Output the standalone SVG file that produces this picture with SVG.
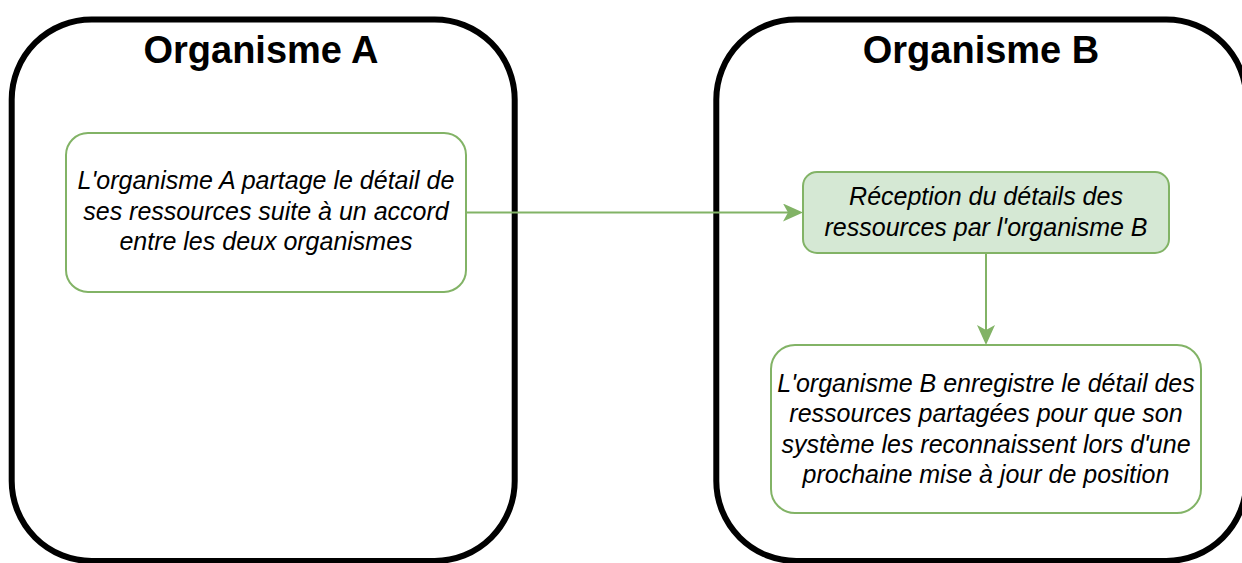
<svg xmlns="http://www.w3.org/2000/svg" width="1242" height="563" viewBox="0 0 1242 563">
  <style>
    .container { fill: #ffffff; stroke: #000000; stroke-width: 6; }
    .title { font-family: "Liberation Sans", Arial, sans-serif; font-weight: bold; font-size: 38px; fill: #000000; text-anchor: middle; }
    .box { fill: #ffffff; stroke: #82b366; stroke-width: 2; }
    .box-filled { fill: #d5e8d4; stroke: #82b366; stroke-width: 2; }
    .label { font-family: "Liberation Sans", Arial, sans-serif; font-style: italic; font-size: 25px; fill: #000000; text-anchor: middle; }
    .edge { fill: none; stroke: #82b366; stroke-width: 2; }
  </style>
  <defs>
    <marker id="arrow" markerUnits="userSpaceOnUse" markerWidth="22" markerHeight="20" refX="12" refY="9" orient="auto" viewBox="0 0 22 20">
      <path d="M0,0 L20,9 L0,18 L5,9 Z" fill="#82b366"/>
    </marker>
  </defs>
  <rect width="1242" height="563" fill="#ffffff"/>

  <g id="organisme-a">
    <rect class="container" x="11.7" y="19.5" width="503" height="541.5" rx="80" ry="80"/>
    <text class="title" x="261" y="63">Organisme A</text>
  </g>

  <g id="organisme-b">
    <rect class="container" x="716.3" y="19.5" width="530" height="541.5" rx="80" ry="80"/>
    <text class="title" x="981" y="63">Organisme B</text>
  </g>

  <g id="node-partage">
    <rect class="box" x="66" y="133" width="400" height="159" rx="22" ry="22"/>
    <text class="label" x="266" y="189">L'organisme A partage le détail de</text>
    <text class="label" x="266" y="219.5">ses ressources suite à un accord</text>
    <text class="label" x="266" y="250">entre les deux organismes</text>
  </g>

  <g id="node-reception">
    <rect class="box-filled" x="803" y="172" width="366" height="81" rx="14" ry="14"/>
    <text class="label" x="986" y="205">Réception du détails des</text>
    <text class="label" x="986" y="235.5">ressources par l'organisme B</text>
  </g>

  <g id="node-enregistre">
    <rect class="box" x="771" y="345" width="430" height="168" rx="24" ry="24"/>
    <text class="label" x="986" y="391.5">L'organisme B enregistre le détail des</text>
    <text class="label" x="986" y="422">ressources partagées pour que son</text>
    <text class="label" x="986" y="452.5">système les reconnaissent lors d'une</text>
    <text class="label" x="986" y="483">prochaine mise à jour de position</text>
  </g>

  <g id="connectors">
    <path class="edge" d="M466,212.5 L795,212.5" marker-end="url(#arrow)"/>
    <path class="edge" d="M986,253 L986,337" marker-end="url(#arrow)"/>
  </g>
</svg>
